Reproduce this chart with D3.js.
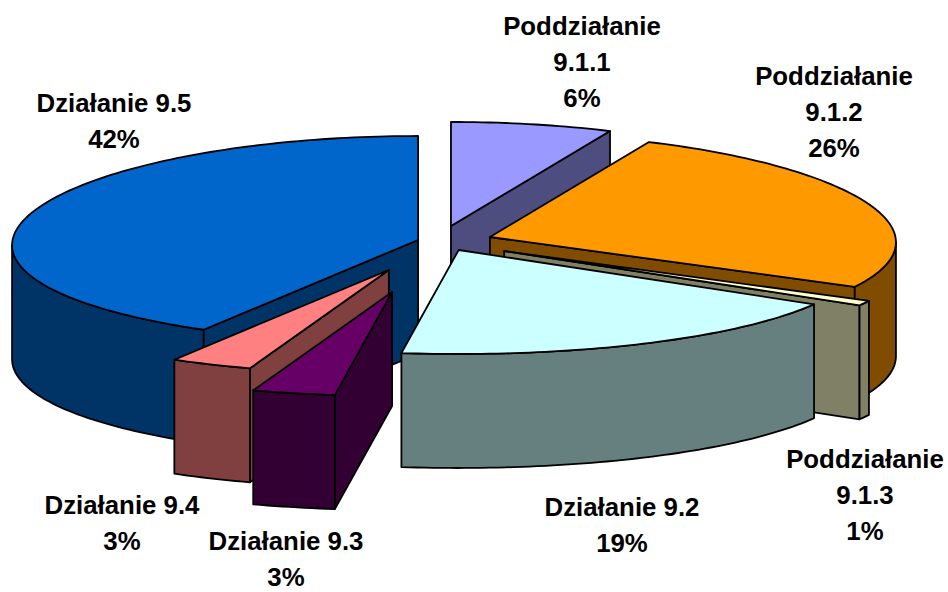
<!DOCTYPE html>
<html><head><meta charset="utf-8">
<script src="https://cdn.jsdelivr.net/npm/d3@7/dist/d3.min.js"></script>
<style>html,body{margin:0;padding:0;background:#fff}svg{display:block}
text{font-family:"Liberation Sans",Arial,sans-serif;font-weight:bold;font-size:25.8px;fill:#000;text-anchor:middle}</style>
</head><body><svg id="c" width="948" height="592"></svg>
<script>
// Data
const categories = ["Poddziałanie 9.1.1","Poddziałanie 9.1.2","Poddziałanie 9.1.3","Działanie 9.2","Działanie 9.3","Działanie 9.4","Działanie 9.5"];
const values = [6.4,25.8,0.8,19.2,3.3,3.3,41.1];
const percentLabels = ["6%","26%","1%","19%","3%","3%","42%"];
const topColors = ["#9999FF","#FF9900","#FFFFCC","#CCFFFF","#660066","#FF8080","#0066CC"];
const wallColors = ["#4D4D80","#804D00","#808066","#668080","#330033","#804040","#003366"];
// Explosion of each slice, in pie radii
const explodeX = [0.027,0.123,0.158,0.046,-0.118,-0.126,-0.054];
const explodeY = [-0.183,-0.077,0.058,0.048,0.452,0.240,-0.048];
// Label anchors and line breaks
const labelLines = [["Poddziałanie","9.1.1"],["Poddziałanie","9.1.2"],["Poddziałanie","9.1.3"],["Działanie 9.2"],["Działanie 9.3"],["Działanie 9.4"],["Działanie 9.5"]];
const labelX = [582,834,865,622,286,122,114];
const labelY = [35,85,468,516,550,514,112];
const drawOrder = [6,0,1,2,3,5,4];

const svg = d3.select("#c");
const x = d3.scaleLinear().domain([-1,1]).range([34,846]);
const y = d3.scaleLinear().domain([-1,1]).range([141,349]);
const depth = 1.096, bulge = 0.05, lineGap = 36;

const arcs = d3.pie().sort(null).value(d=>d).startAngle(0).endAngle(2*Math.PI)(values);
const pt = (i,a,h=0)=>[x(explodeX[i]+Math.sin(a)), y(explodeY[i]-Math.cos(a)+bulge*Math.sin(a)**2+h)];
const line = d3.line();
const sweep = (a0,a1)=>{const n=Math.max(2,Math.ceil(Math.abs(a1-a0)/0.02));return d3.range(n+1).map(k=>a0+(a1-a0)*k/n);};

function drawPoly(pts,fill){
  svg.append("path").attr("d",line(pts)+"Z").attr("fill",fill)
    .attr("stroke","#000").attr("stroke-width",1.8).attr("stroke-linejoin","round");
}
drawOrder.forEach(i=>{
  const {startAngle:a0,endAngle:a1}=arcs[i];
  const o=[x(explodeX[i]),y(explodeY[i])];
  const oLow=[o[0],y(explodeY[i]+depth)];
  // radial walls that face the viewer
  if(Math.sin(a0)<0) drawPoly([o,pt(i,a0),pt(i,a0,depth),oLow],wallColors[i]);
  if(Math.sin(a1)>0) drawPoly([o,pt(i,a1),pt(i,a1,depth),oLow],wallColors[i]);
  // rim wall on the near half
  const b0=Math.max(a0,Math.PI/2), b1=Math.min(a1,3*Math.PI/2);
  if(b1>b0){
    const s=sweep(b0,b1);
    drawPoly(s.map(a=>pt(i,a)).concat(s.slice().reverse().map(a=>pt(i,a,depth))),wallColors[i]);
  }
  // top face
  drawPoly([o].concat(sweep(a0,a1).map(a=>pt(i,a))),topColors[i]);
});
categories.forEach((c,i)=>{
  const lines=labelLines[i].concat([percentLabels[i]]);
  lines.forEach((t,k)=>svg.append("text").attr("x",labelX[i]).attr("y",labelY[i]+k*lineGap).text(t));
});
</script></body></html>
